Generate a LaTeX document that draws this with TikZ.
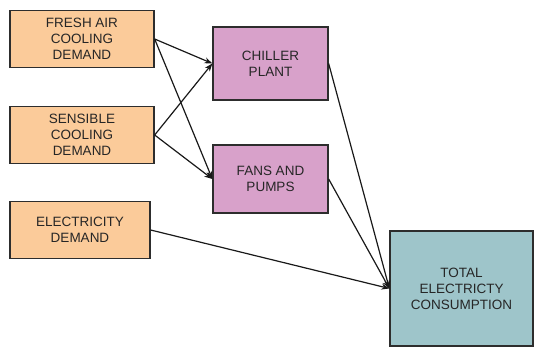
\documentclass[tikz,border=0pt]{standalone}
\usepackage{fontspec}
\setmainfont{Liberation Sans}
\usetikzlibrary{arrows.meta,positioning}

\definecolor{demandorange}{RGB}{251,203,154}
\definecolor{plantpink}{RGB}{216,161,202}
\definecolor{totalteal}{RGB}{158,197,202}
\definecolor{edgegray}{RGB}{45,45,45}

\begin{document}
\begin{tikzpicture}[x=1pt, y=-1pt,
            box/.style={rectangle, draw=edgegray, line width=1.3pt, text centered, align=center,
                        font=\fontsize{13.5}{16}\selectfont, text=black!85, inner sep=0pt},
            demand/.style={box, fill=demandorange, minimum height=57pt},
            plant/.style={box, fill=plantpink, minimum width=115pt},
            arrow/.style={-{Stealth[length=8pt,width=6pt]}, line width=1.2pt, draw=black!90}
        ]
            \useasboundingbox (0,0) rectangle (535,347);
            \node[demand, minimum width=144pt] (freshair) at (82,39) {FRESH AIR\\COOLING\\DEMAND};
            \node[demand, minimum width=144pt] (sensible) at (82,135) {SENSIBLE\\COOLING\\DEMAND};
            \node[demand, minimum width=140pt] (elecdemand) at (80,230) {ELECTRICITY\\DEMAND};
            \node[plant, minimum height=73pt] (chiller) at (270.5,63.5) {CHILLER\\PLANT};
            \node[plant, minimum height=68pt] (fans) at (270.5,179) {FANS AND\\PUMPS};
            \node[box, fill=totalteal, minimum width=143pt, minimum height=115pt] (total) at (461.5,288.5) {TOTAL\\ELECTRICTY\\CONSUMPTION};
            
            \draw[arrow] (freshair.east) -- (chiller.west);
            \draw[arrow] (freshair.east) -- (fans.west);
            \draw[arrow] (sensible.east) -- (chiller.west);
            \draw[arrow] (sensible.east) -- (fans.west);
            \draw[arrow] (chiller.east) -- (total.west);
            \draw[arrow] (fans.east) -- (total.west);
            \draw[arrow] (elecdemand.east) -- (total.west);
        \end{tikzpicture}
\end{document}
